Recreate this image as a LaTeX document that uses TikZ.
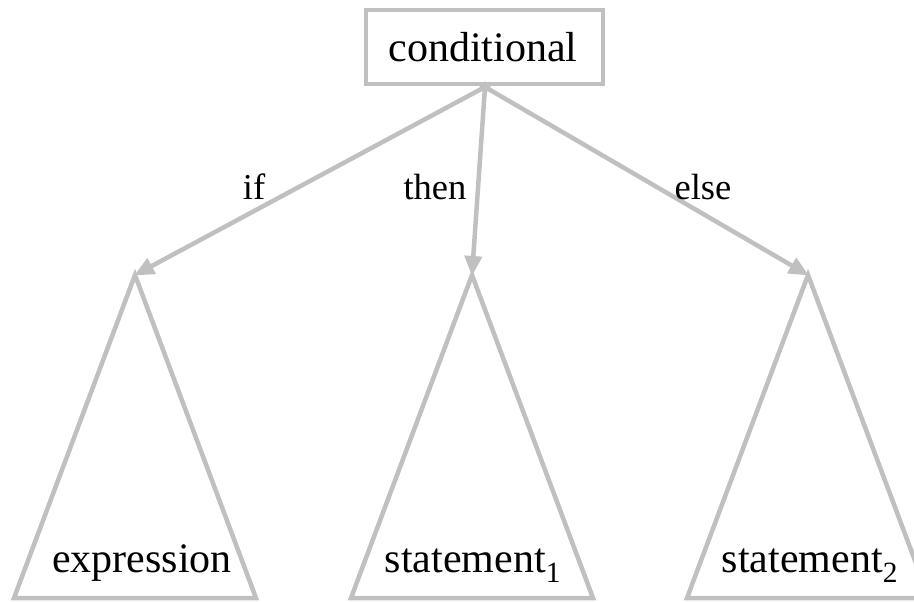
\documentclass[tikz,border=0pt]{standalone}
\usepackage{fontspec}
\setmainfont{Liberation Serif}
\usetikzlibrary{arrows.meta}
\definecolor{edgegray}{HTML}{C0C0C0}
\tikzset{
  treeline/.style={draw=edgegray, line width=4.5pt},
  bigtext/.style={anchor=base, inner sep=0pt, font=\fontsize{42}{50}\selectfont, text=black},
  edgelabel/.style={anchor=base, inner sep=0pt, font=\fontsize{36.5}{44}\selectfont, text=black},
  arrowline/.style={draw=edgegray, line width=4.5pt, -{Triangle[length=20pt,width=17pt]}, shorten >=-1pt},
}
\begin{document}
\begin{tikzpicture}[x=1pt,y=-1pt]
\useasboundingbox (0,0) rectangle (914,602);
\clip (0,0) rectangle (914,602);
% root box
\draw[treeline] (366,10) rectangle (603,84);
\node[bigtext] (cond) at (483,62) {conditional};
\coordinate (root) at (485,87);
% triangles
\coordinate (ta) at (135,275);
\coordinate (tb) at (472,275);
\coordinate (tc) at (808,275);
\draw[treeline] (ta) -- (14,598) -- (256,598) -- cycle;
\draw[treeline] (tb) -- (351,598) -- (593,598) -- cycle;
\draw[treeline] (tc) -- (687,598) -- (929,598) -- cycle;
% edges
\draw[arrowline] (root) -- (ta);
\draw[arrowline] (root) -- (tb);
\draw[arrowline] (root) -- (tc);
\fill[edgegray] (root) circle (5.5pt);
% labels
\node[edgelabel] (lif) at (254,199) {if};
\node[edgelabel] (lthen) at (435,199) {then};
\node[edgelabel] (lelse) at (703,199) {else};
% leaf texts
\node[bigtext] (expr) at (142,572) {expression};
\node[bigtext] (st1) at (473,572) {statement\textsubscript{1}};
\node[bigtext] (st2) at (810,572) {statement\textsubscript{2}};
\end{tikzpicture}
\end{document}
